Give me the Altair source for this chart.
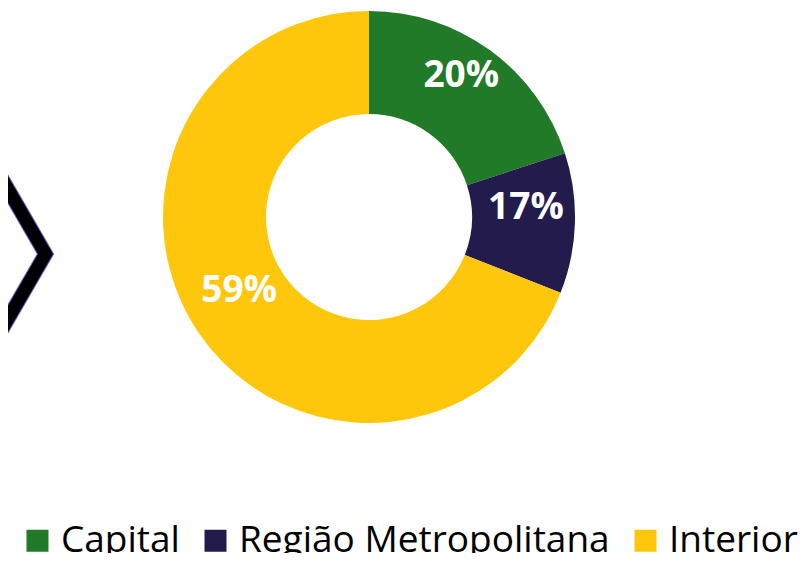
import altair as alt
import pandas as pd

categories = ["Capital", "Região Metropolitana", "Interior"]
values = [20, 11, 69]
labels = ["20%", "17%", "59%"]
colors = ["#217a27", "#221b4b", "#fec70c"]

# decorative chevron outline (left edge)
chev_x = [-28, 37.5, -28]
chev_y = [133, 246, 359]

df = pd.DataFrame({"cat": categories, "value": values, "label": labels,
                   "idx": list(range(len(categories)))})
chev = pd.DataFrame({"cx": chev_x, "cy": chev_y, "o": [0, 1, 2]})

CX, CY = 361, 209

base = alt.Chart(df)

arcs = base.mark_arc(innerRadius=103, outerRadius=206, strokeWidth=0).encode(
    theta=alt.Theta("value:Q", stack=True),
    order=alt.Order("idx:Q"),
    x=alt.value(CX),
    y=alt.value(CY),
    color=alt.Color(
        "cat:N",
        sort=categories,
        scale=alt.Scale(domain=categories, range=colors),
        legend=alt.Legend(
            orient="none", legendX=11, legendY=514, direction="horizontal",
            title=None, symbolType="square", symbolSize=484, symbolStrokeWidth=0,
            labelFontSize=37, labelFont="Open Sans", labelColor="black",
            labelOffset=5, columnPadding=17, padding=0, labelLimit=0,
        ),
    ),
)

texts = base.mark_text(radius=157, dy=-14, font="Open Sans", fontWeight="bold",
                       fontSize=37, color="white").encode(
    theta=alt.Theta("value:Q", stack=True),
    order=alt.Order("idx:Q"),
    x=alt.value(CX),
    y=alt.value(CY),
    text="label:N",
)

chev_outline = alt.Chart(chev).mark_line(color="#6a5acd", strokeWidth=15,
                                         strokeJoin="miter", strokeMiterLimit=10).encode(
    x=alt.X("cx:Q", scale=None), y=alt.Y("cy:Q", scale=None), order="o:Q")
chev_fill = alt.Chart(chev).mark_line(color="black", strokeWidth=13,
                                      strokeJoin="miter", strokeMiterLimit=10).encode(
    x=alt.X("cx:Q", scale=None), y=alt.Y("cy:Q", scale=None), order="o:Q")

chart = alt.layer(chev_outline, chev_fill, arcs, texts).properties(
    width=792, height=545, autosize=alt.AutoSizeParams(type="none"), padding=0
).configure_view(stroke=None)

chart.save("out.html", embed_options={"renderer": "svg", "actions": False})
